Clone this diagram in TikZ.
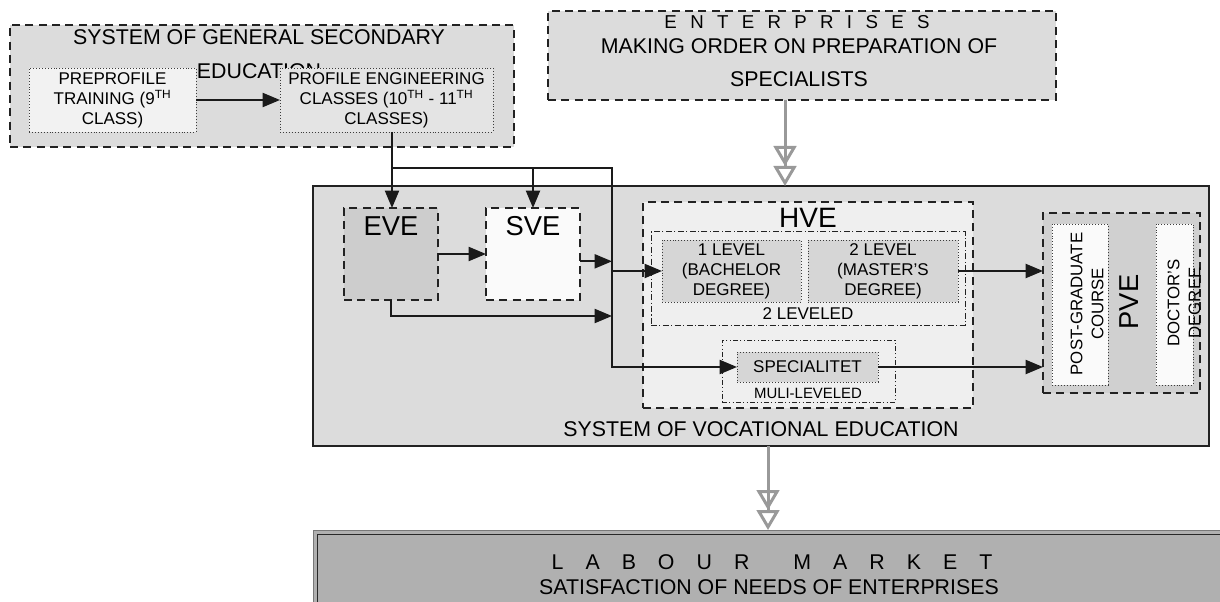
\documentclass[tikz,border=0pt]{standalone}
\usepackage{fontspec}
\setmainfont{Liberation Sans}
\usetikzlibrary{arrows.meta}

\newcommand\titlefs{\fontsize{16}{25.5}\selectfont}
\newcommand\innerfs{\fontsize{12.75}{15}\selectfont}
\newcommand\levelfs{\fontsize{12.75}{15}\selectfont}
\newcommand\abbrfs{\fontsize{20.5}{24}\selectfont}

\tikzset{every picture/.style={line width=0.75pt}}
\tikzset{
  bx/.style={inner sep=0pt,outer sep=0pt,anchor=north west},
  dashbox/.style={bx,draw={rgb, 255:red, 34; green, 34; blue, 34 },line width=1.1pt,dash pattern=on 6pt off 4pt},
  dotbox/.style={bx,draw={rgb, 255:red, 60; green, 60; blue, 60 },line width=0.6pt,dash pattern=on 0.7pt off 1.5pt,align=center,font=\innerfs},
  dashdotbox/.style={bx,draw={rgb, 255:red, 34; green, 34; blue, 34 },line width=0.75pt,dash pattern=on 4.5pt off 1.8pt on 0.8pt off 1.8pt},
  txt/.style={inner sep=0pt,align=center},
  conn/.style={draw={rgb, 255:red, 26; green, 26; blue, 26 },line width=1.5pt,-{Triangle[length=13pt,width=10.5pt]}},
  feed/.style={draw={rgb, 255:red, 153; green, 153; blue, 153 },line width=2.25pt,
    -{Triangle[open,length=15pt,width=17pt]Triangle[open,length=15pt,width=17pt]}},
}

\begin{document}
\begin{tikzpicture}[x=0.75pt,y=0.75pt,yscale=-1,xscale=1]
\useasboundingbox (0,0) rectangle (1220,602);

%Shape: general secondary education
\node[dashbox,fill={rgb, 255:red, 220; green, 220; blue, 220 },minimum width=378pt,minimum height=91.5pt] (gse) at (10,25) {};
\node[txt,font=\titlefs] (gsetitle) at (259,54) {SYSTEM OF GENERAL SECONDARY\\EDUCATION};
\node[dotbox,fill={rgb, 255:red, 242; green, 242; blue, 242 },minimum width=125.25pt,minimum height=48pt] (pre) at (29,68)
  {PREPROFILE\\TRAINING (9\textsuperscript{TH}\\CLASS)};
\node[dotbox,fill={rgb, 255:red, 228; green, 228; blue, 228 },minimum width=159.75pt,minimum height=48pt] (prof) at (280,68)
  {PROFILE ENGINEERING\\CLASSES (10\textsuperscript{TH} - 11\textsuperscript{TH}\\CLASSES)};

%Shape: enterprises
\node[dashbox,fill={rgb, 255:red, 220; green, 220; blue, 220 },minimum width=381pt,minimum height=66.75pt] (ent) at (548,11) {};
\node[txt,font=\fontsize{14}{17}\selectfont,execute at begin node={\spaceskip=10pt\relax}] (enttitle) at (797,22) {E N T E R P R I S E S};
\node[txt,font=\fontsize{16}{24.75}\selectfont] (entsub) at (799,63) {MAKING ORDER ON PREPARATION OF\\SPECIALISTS};

%Shape: vocational education
\node[bx,draw={rgb, 255:red, 34; green, 34; blue, 34 },line width=1.1pt,fill={rgb, 255:red, 220; green, 220; blue, 220 },minimum width=672pt,minimum height=195pt] (voc) at (313,186) {};
\node[txt,font=\titlefs] (voctitle) at (761,429) {SYSTEM OF VOCATIONAL EDUCATION};

%Shape: EVE and SVE
\node[dashbox,fill={rgb, 255:red, 205; green, 205; blue, 205 },minimum width=70.5pt,minimum height=69pt] (eve) at (344,208) {};
\node[txt,font=\abbrfs] (evet) at (391,226) {EVE};
\node[dashbox,fill={rgb, 255:red, 250; green, 250; blue, 250 },minimum width=70.5pt,minimum height=69pt] (sve) at (486,208) {};
\node[txt,font=\abbrfs] (svet) at (533,226) {SVE};

%Shape: HVE
\node[dashbox,fill={rgb, 255:red, 239; green, 239; blue, 239 },minimum width=247.5pt,minimum height=154.5pt] (hve) at (643,202) {};
\node[txt,font=\fontsize{21}{25}\selectfont] (hvet) at (808,218) {HVE};
\node[dashdotbox,minimum width=235.5pt,minimum height=69.75pt] (two) at (651,232) {};
\node[dotbox,font=\levelfs,fill={rgb, 255:red, 214; green, 214; blue, 214 },minimum width=104.25pt,minimum height=46.5pt] (lev1) at (662,240)
  {1 LEVEL\\(BACHELOR\\DEGREE)};
\node[dotbox,font=\levelfs,fill={rgb, 255:red, 214; green, 214; blue, 214 },minimum width=112.5pt,minimum height=46.5pt] (lev2) at (808,240)
  {2 LEVEL\\(MASTER'S\\DEGREE)};
\node[txt,font=\levelfs] (twot) at (808,314) {2 LEVELED};
\node[dashdotbox,dash pattern=on 3.5pt off 1.8pt on 0.8pt off 1.8pt on 0.8pt off 1.8pt,minimum width=129.75pt,minimum height=46.5pt] (multi) at (722,340) {};
\node[dotbox,font=\levelfs,fill={rgb, 255:red, 214; green, 214; blue, 214 },minimum width=105.75pt,minimum height=22.5pt] (spec) at (737,352) {SPECIALITET};
\node[txt,font=\fontsize{11.2}{13}\selectfont] (multit) at (808,393) {MULI-LEVELED};

%Shape: PVE
\node[dashbox,fill={rgb, 255:red, 208; green, 208; blue, 208 },minimum width=117.75pt,minimum height=135pt] (pve) at (1043,213) {};
\node[dotbox,fill={rgb, 255:red, 250; green, 250; blue, 250 },minimum width=42pt,minimum height=120.75pt] (pg) at (1052,224) {};
\node[dotbox,fill={rgb, 255:red, 250; green, 250; blue, 250 },minimum width=27.75pt,minimum height=120.75pt] (doc) at (1156,224) {};
\node[txt,font=\abbrfs,rotate=90] (pvet) at (1129,302) {PVE};
\node[txt,font=\fontsize{12.6}{15.75}\selectfont,rotate=90] (pgt) at (1087,304) {POST-GRADUATE\\COURSE};
\node[txt,font=\fontsize{12.6}{15.75}\selectfont,rotate=90] (doct) at (1184,303) {DOCTOR'S\\DEGREE};

%Shape: labour market
\node[bx,draw={rgb, 255:red, 120; green, 120; blue, 120 },line width=0.75pt,fill={rgb, 255:red, 176; green, 176; blue, 176 },minimum width=690pt,minimum height=60pt] (lab) at (313,530) {};
\draw[line width=0.75pt,draw={rgb, 255:red, 40; green, 40; blue, 40 }] (317,534) rectangle (1240,620);
\node[txt,font=\titlefs,execute at begin node={\spaceskip=16.5pt\relax}] (labt) at (772,562) {L A B O U R \ M A R K E T};
\node[txt,font=\titlefs] (labsub) at (769,587) {SATISFACTION OF NEEDS OF ENTERPRISES};

%Connectors
\coordinate (jt) at (392,168);
\coordinate (jr) at (612,168);
\coordinate (eb) at (612,316);
\coordinate (fa) at (785,100);
\coordinate (fb) at (768,446);
\draw[conn] (pre) -- (prof);
\draw[conn] (prof.south -| jt) -- (jt |- eve.north);
\draw[conn] (jt) -| (jr) |- (spec.west);
\draw[conn] (jt -| sve) -- (sve.north);
\draw[conn] (eve) -- (sve);
\draw[conn] ([yshift=5.5pt]sve.east) -- ([yshift=5.5pt]sve.east -| jr);
\draw[conn] (eve.south) |- (eb);
\draw[conn] (lev1 -| jr) -- (lev1.west);
\draw[conn] (lev2.east) -- (lev2 -| pve.west);
\draw[conn] (spec.east) -- (spec -| pve.west);
\draw[feed] (fa) -- (fa |- voc.north);
\draw[feed] (fb) -- (fb |- lab.north);

\end{tikzpicture}
\end{document}
